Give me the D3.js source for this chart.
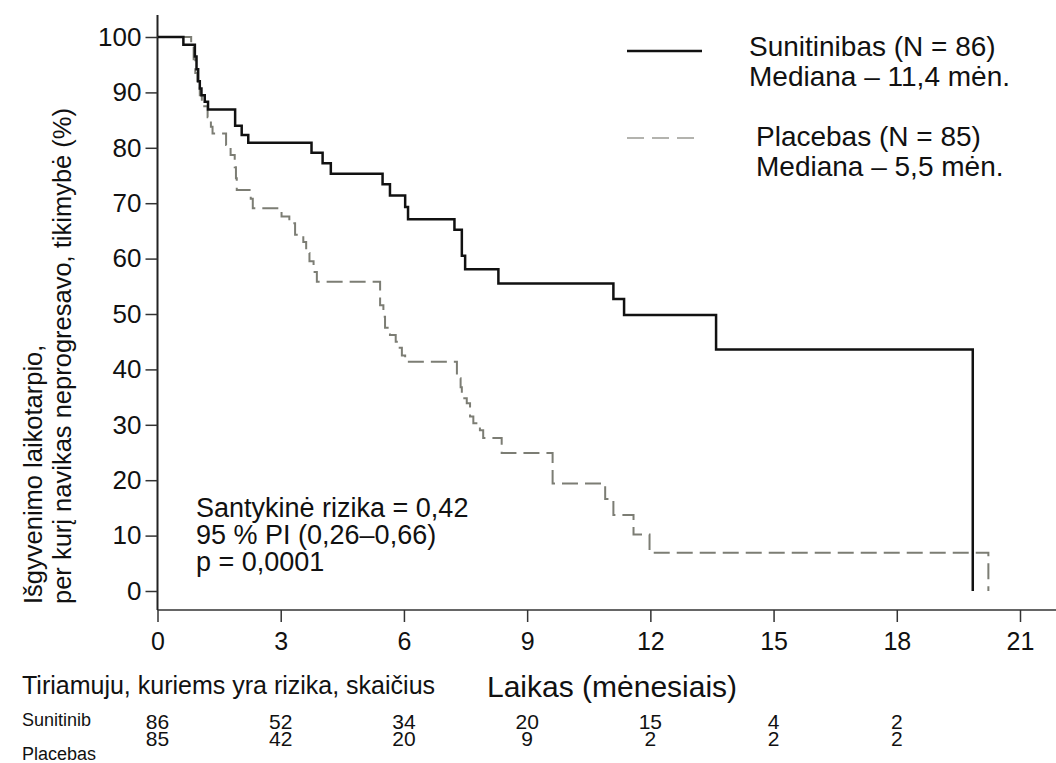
<!DOCTYPE html>
<html>
<head>
<meta charset="utf-8">
<script src="https://cdn.jsdelivr.net/npm/d3@7"></script>
<style>
  html, body { margin: 0; padding: 0; background: #fff; }
  svg text { font-family: "Liberation Sans", Arial, sans-serif; fill: #111; }
</style>
</head>
<body>
<svg id="chart" width="1056" height="763"></svg>
<script>
// Kaplan-Meier steps: [months, % without progression]
const sunitinibSteps = [
  [0, 100], [0.63, 98.6], [0.91, 96.5], [0.95, 94.2], [0.99, 92.0], [1.03, 90.7],
  [1.07, 89.5], [1.15, 88.3], [1.23, 86.9], [1.89, 84.0], [2.05, 82.3], [2.21, 80.9],
  [3.75, 79.1], [4.02, 77.2], [4.22, 75.3], [5.48, 73.4], [5.66, 71.4], [6.03, 69.3],
  [6.10, 67.1], [7.23, 65.2], [7.41, 60.5], [7.49, 58.1], [8.30, 55.5], [11.10, 52.7],
  [11.36, 49.8], [13.60, 43.6], [19.85, 0]
];
const placeboSteps = [
  [0, 100], [0.82, 98.8], [0.88, 96.0], [0.92, 93.5], [0.97, 91.0], [1.03, 89.5],
  [1.08, 87.5], [1.22, 85.5], [1.30, 83.8], [1.34, 82.6], [1.67, 80.5], [1.78, 78.7],
  [1.88, 76.5], [1.91, 74.5], [1.93, 72.4], [2.27, 70.8], [2.32, 69.1], [3.02, 67.6],
  [3.21, 66.4], [3.35, 64.3], [3.55, 63.0], [3.62, 61.0], [3.70, 59.5], [3.80, 57.6],
  [3.88, 55.8], [5.42, 51.6], [5.50, 49.5], [5.54, 47.5], [5.66, 46.2], [5.80, 45.0],
  [5.86, 43.9], [5.95, 42.5], [6.03, 41.4], [7.29, 38.4], [7.38, 36.8], [7.41, 34.8],
  [7.53, 33.9], [7.61, 31.5], [7.69, 30.3], [7.85, 29.0], [7.93, 27.6], [8.38, 24.9],
  [9.62, 19.4], [10.90, 16.6], [11.10, 13.7], [11.59, 10.2], [11.98, 6.9], [20.23, 0]
];

const xTicks = [0, 3, 6, 9, 12, 15, 18, 21];
const yTicks = [0, 10, 20, 30, 40, 50, 60, 70, 80, 90, 100];

// number at risk table
const riskTimes     = [0, 3, 6, 9, 12, 15, 18];
const riskSunitinib = [86, 52, 34, 20, 15, 4, 2];
const riskPlacebo   = [85, 42, 20, 9, 2, 2, 2];

const legendLabels = [
  ["Sunitinibas (N = 86)", "Mediana – 11,4 mėn."],
  ["Placebas (N = 85)", "Mediana – 5,5 mėn."]
];
const statsLines = ["Santykinė rizika = 0,42", "95 % PI (0,26–0,66)", "p = 0,0001"];

const svg = d3.select("#chart");

const x = d3.scaleLinear().domain([0, 21]).range([157.5, 1020]);
const y = d3.scaleLinear().domain([0, 100]).range([591, 37]);
const axisY = 610;

// x axis - line runs to the right edge
svg.append("line")
  .attr("x1", x(0)).attr("x2", 1056)
  .attr("y1", axisY).attr("y2", axisY)
  .attr("stroke", "#666").attr("stroke-width", 2);

const gx = svg.append("g")
  .attr("transform", `translate(0,${axisY})`)
  .call(d3.axisBottom(x).tickValues(xTicks).tickSize(12).tickPadding(10));
gx.select(".domain").remove();
gx.selectAll(".tick line").attr("stroke", "#333").attr("stroke-width", 1.5);
gx.selectAll(".tick text").attr("font-size", 25).attr("fill", "#111");

// y axis
svg.append("line")
  .attr("x1", x(0)).attr("x2", x(0))
  .attr("y1", 15).attr("y2", axisY)
  .attr("stroke", "#222").attr("stroke-width", 2);

const gy = svg.append("g")
  .attr("transform", `translate(${x(0)},0)`)
  .call(d3.axisLeft(y).tickValues(yTicks).tickSize(12).tickPadding(4));
gy.select(".domain").remove();
gy.selectAll(".tick line").attr("stroke", "#333").attr("stroke-width", 1.5);
gy.selectAll(".tick text").attr("font-size", 26).attr("fill", "#161625");

// y axis title, two rotated lines
const yTitle = svg.append("text")
  .attr("transform", "translate(42,604) rotate(-90)")
  .attr("font-size", 25.5);
yTitle.append("tspan").attr("x", 0).attr("y", 0).text("Išgyvenimo laikotarpio,");
yTitle.append("tspan").attr("x", 0).attr("y", 29).text("per kurį navikas neprogresavo, tikimybė (%)");

// curves
const stepLine = d3.line()
  .x(d => x(d[0]))
  .y(d => y(d[1]))
  .curve(d3.curveStepAfter);

svg.append("path")
  .datum(placeboSteps)
  .attr("d", stepLine)
  .attr("fill", "none")
  .attr("stroke", "#7c7d74")
  .attr("stroke-width", 2)
  .attr("stroke-dasharray", "16,7");

svg.append("path")
  .datum(sunitinibSteps)
  .attr("d", stepLine)
  .attr("fill", "none")
  .attr("stroke", "#111")
  .attr("stroke-width", 2.5);

// legend
svg.append("line")
  .attr("x1", 627).attr("x2", 702).attr("y1", 51).attr("y2", 51)
  .attr("stroke", "#111").attr("stroke-width", 2.6);
svg.append("line")
  .attr("x1", 627).attr("x2", 702).attr("y1", 138).attr("y2", 138)
  .attr("stroke", "#9a9a94").attr("stroke-width", 1.7)
  .attr("stroke-dasharray", "17,8");

legendLabels.forEach((lines, i) => {
  svg.append("text")
    .attr("y", i == 0 ? 56 : 146)
    .attr("font-size", 28)
    .selectAll("tspan")
    .data(lines)
    .enter().append("tspan")
    .attr("x", i == 0 ? 749 : 756)
    .attr("dy", (d, j) => j == 0 ? 0 : 30)
    .text(d => d);
});

// hazard ratio box
svg.append("text")
  .attr("font-size", 27)
  .selectAll("tspan")
  .data(statsLines)
  .enter().append("tspan")
  .attr("x", 196)
  .attr("y", (d, i) => 517 + i * 27)
  .text(d => d);

// number at risk
svg.append("text").attr("x", 22).attr("y", 694).attr("font-size", 25)
  .text("Tiriamuju, kuriems yra rizika, skaičius");
svg.append("text").attr("x", 487).attr("y", 697).attr("font-size", 30)
  .text("Laikas (mėnesiais)");
svg.append("text").attr("x", 22).attr("y", 726).attr("font-size", 18).text("Sunitinib");
svg.append("text").attr("x", 22).attr("y", 760).attr("font-size", 18).text("Placebas");

svg.selectAll(".riskSun")
  .data(riskSunitinib)
  .enter().append("text")
  .attr("x", (d, i) => x(riskTimes[i]))
  .attr("y", 729)
  .attr("text-anchor", "middle")
  .attr("font-size", 21)
  .text(d => d);

svg.selectAll(".riskPla")
  .data(riskPlacebo)
  .enter().append("text")
  .attr("x", (d, i) => x(riskTimes[i]))
  .attr("y", 746)
  .attr("text-anchor", "middle")
  .attr("font-size", 21)
  .text(d => d);
</script>
</body>
</html>
